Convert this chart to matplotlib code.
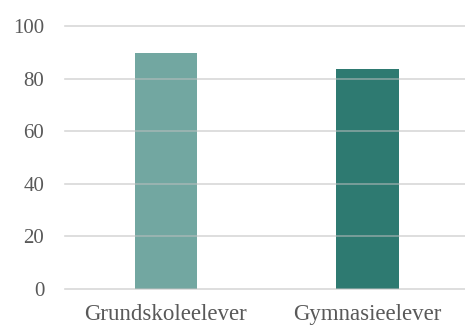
import matplotlib
matplotlib.use("Agg")
import matplotlib.pyplot as plt

categories = ["Grundskoleelever", "Gymnasieelever"]
values = [89.6, 83.5]
colors = ["#72a7a1", "#2e7a71"]
yticks = [0, 20, 40, 60, 80, 100]

plt.rcParams['font.family'] = ['Liberation Serif', 'DejaVu Serif']

fig = plt.figure(figsize=(4.65, 3.26), dpi=100)
ax = fig.add_axes([65/465, 37/326, 400/465, 263/326])

x = list(range(len(categories)))
ax.bar(x, values, width=0.31, color=colors, zorder=1)

ax.set_ylim(0, 100)
ax.set_xlim(-0.501, 1.484)
ax.set_yticks(yticks)
ax.set_yticklabels([str(t) for t in yticks])
ax.set_xticks(x)
ax.set_xticklabels(categories)

for t in yticks:
    ax.axhline(t, color="#bfbfbf", lw=1.2, alpha=0.6, zorder=2, clip_on=False)

for s in ax.spines.values():
    s.set_visible(False)
ax.tick_params(axis='both', length=0, colors="#595959", labelsize=15)
ax.tick_params(axis='y', pad=15)
ax.tick_params(axis='x', pad=11, labelsize=16.5)

fig.savefig("out.png", dpi=100)
